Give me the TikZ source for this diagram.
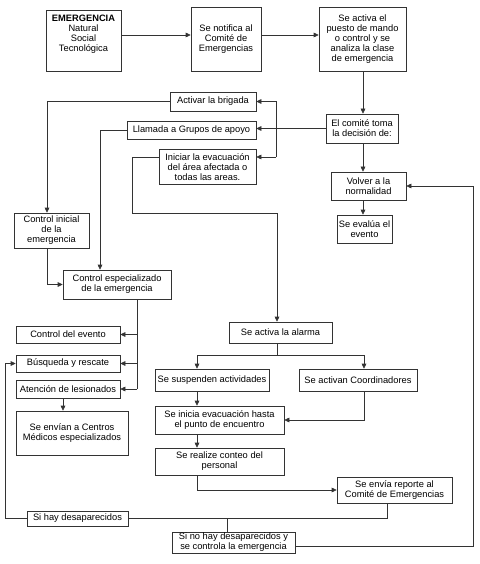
\documentclass[tikz,border=0pt]{standalone}
\usepackage{fontspec}
\setmainfont{Liberation Sans}
\usetikzlibrary{arrows.meta}
\begin{document}
\begin{tikzpicture}[x=1pt,y=-1pt,
  box/.style={draw=black!80, line width=0.6pt, inner sep=0pt, align=center,
    font=\fontsize{9.3}{10}\selectfont},
  txt/.style={inner sep=0pt, align=center, font=\fontsize{9.3}{10}\selectfont},
  ln/.style={draw=black!80, line width=0.6pt},
  arr/.style={ln, -{Triangle[length=5pt,width=4.6pt]}}]
\fill[white] (0,0) rectangle (479,564);
\useasboundingbox (0,0) rectangle (479,564);
% boxes
\node[box, minimum width=75, minimum height=61] (emerg) at (83.5,40.5) {};
\node[txt] (emergtxt) at (83.5,34) {\textbf{EMERGENCIA}\\Natural\\Social\\Tecnológica};
\node[box, minimum width=70, minimum height=64] (notif) at (226,39) {Se notifica al\\Comité de\\Emergencias};
\node[box, minimum width=87, minimum height=64] (puesto) at (362.5,39) {Se activa el\\puesto de mando\\o control y se\\analiza la clase\\de emergencia};
\node[box, minimum width=72, minimum height=29] (comite) at (362,128.5) {El comité toma\\la decisión de:};
\node[box, minimum width=75, minimum height=28] (volver) at (368.5,186) {Volver a la\\normalidad};
\node[box, minimum width=55, minimum height=28] (evaluar) at (364.5,229) {Se evalúa el\\evento};
\node[box, minimum width=86, minimum height=19] (activar) at (213,101.5) {Activar la brigada};
\node[box, minimum width=129, minimum height=18] (llamada) at (191.5,130) {Llamada a Grupos de apoyo};
\node[box, minimum width=97, minimum height=35] (iniciar) at (207.5,167) {Iniciar la evacuación\\del área afectada o\\todas las areas.};
\node[box, minimum width=75, minimum height=35] (ctrlini) at (51.5,230.5) {Control inicial\\de la\\emergencia};
\node[box, minimum width=108, minimum height=29] (ctrlesp) at (117,284.5) {Control especializado\\de la emergencia};
\node[box, minimum width=104, minimum height=17] (ctrlev) at (68,334.5) {Control del evento};
\node[box, minimum width=104, minimum height=17] (busq) at (68,363.5) {Búsqueda y rescate};
\node[box, minimum width=104, minimum height=18] (atenc) at (68,389) {Atención de lesionados};
\node[box, minimum width=112, minimum height=44] (envian) at (72,433) {Se envían a Centros\\Médicos especializados};
\node[box, minimum width=103, minimum height=21] (alarma) at (280.5,332.5) {Se activa la alarma};
\node[box, minimum width=114, minimum height=22] (susp) at (212,380) {Se suspenden actividades};
\node[box, minimum width=118, minimum height=22] (coord) at (358,380) {Se activan Coordinadores};
\node[box, minimum width=129, minimum height=28] (inicev) at (219.5,420) {Se inicia evacuación hasta\\el punto de encuentro};
\node[box, minimum width=129, minimum height=27] (conteo) at (219.5,461.5) {Se realize conteo del\\personal};
\node[box, minimum width=115, minimum height=26] (reporte) at (394.5,490) {Se envía reporte al\\Comité de Emergencias};
\node[box, minimum width=101, minimum height=15] (sihay) at (77.5,518.5) {Si hay desaparecidos};
\node[box, minimum width=123, minimum height=21] (sinohay) at (233.5,542.5) {Si no hay desaparecidos y\\se controla la emergencia};
% helper coordinates
\coordinate (yT) at (0,35);
\coordinate (xA) at (47,0);
\coordinate (xB) at (100,0);
\coordinate (xC) at (132,0);
\coordinate (yC) at (0,213);
\coordinate (xD) at (277,0);
\coordinate (xBr) at (276,0);
\coordinate (yA) at (0,157);
\coordinate (xE) at (137,0);
\coordinate (xF) at (63,0);
\coordinate (xG) at (197,0);
\coordinate (xH) at (364,0);
\coordinate (yI) at (0,355);
\coordinate (xJ) at (387,0);
\coordinate (xK) at (227,0);
\coordinate (xL) at (5,0);
\coordinate (xM) at (473,0);
\coordinate (yS) at (0,546);
\coordinate (xV) at (363,0);
% connectors
\draw[arr] (emerg.east |- yT) -- (notif.west |- yT);
\draw[arr] (notif.east |- yT) -- (puesto.west |- yT);
\draw[arr] (xV |- puesto.south) -- (xV |- comite.north);
\draw[arr] (xV |- comite.south) -- (xV |- volver.north);
\draw[arr] (xV |- volver.south) -- (xV |- evaluar.north);
\draw[arr] (comite.west) -- (comite.west -| llamada.east);
\draw[ln] (xBr |- activar.east) -- (xBr |- yA);
\draw[arr] (xBr |- activar.east) -- (activar.east);
\draw[arr] (xBr |- yA) -- (iniciar.east |- yA);
\draw[arr] (activar.west) -| (xA |- ctrlini.north);
\draw[arr] (llamada.west) -| (xB |- ctrlesp.north);
\draw[arr] (xA |- ctrlini.south) |- (ctrlesp.west);
\draw[arr] (iniciar.west |- yA) -| (xC |- yC) -| (xD |- alarma.north);
\draw[ln] (xE |- ctrlesp.south) -- (xE |- atenc.east);
\draw[arr] (xE |- ctrlev.east) -- (ctrlev.east);
\draw[arr] (xE |- busq.east) -- (busq.east);
\draw[arr] (xE |- atenc.east) -- (atenc.east);
\draw[arr] (xF |- atenc.south) -- (xF |- envian.north);
\draw[ln] (xD |- alarma.south) -- (xD |- yI);
\draw[arr] (xD |- yI) -| (xG |- susp.north);
\draw[arr] (xD |- yI) -| (xH |- coord.north);
\draw[arr] (xG |- susp.south) -- (xG |- inicev.north);
\draw[arr] (xH |- coord.south) |- (inicev.east);
\draw[arr] (xG |- inicev.south) -- (xG |- conteo.north);
\draw[arr] (xG |- conteo.south) |- (reporte.west);
\draw[ln] (xJ |- reporte.south) |- (sihay.east);
\draw[ln] (xK |- sihay.east) -- (xK |- sinohay.north);
\draw[arr] (sihay.west) -| (xL |- busq.west) -- (busq.west);
\draw[arr] (sinohay.east |- yS) -| (xM |- volver.east) -- (volver.east);
\end{tikzpicture}
\end{document}
